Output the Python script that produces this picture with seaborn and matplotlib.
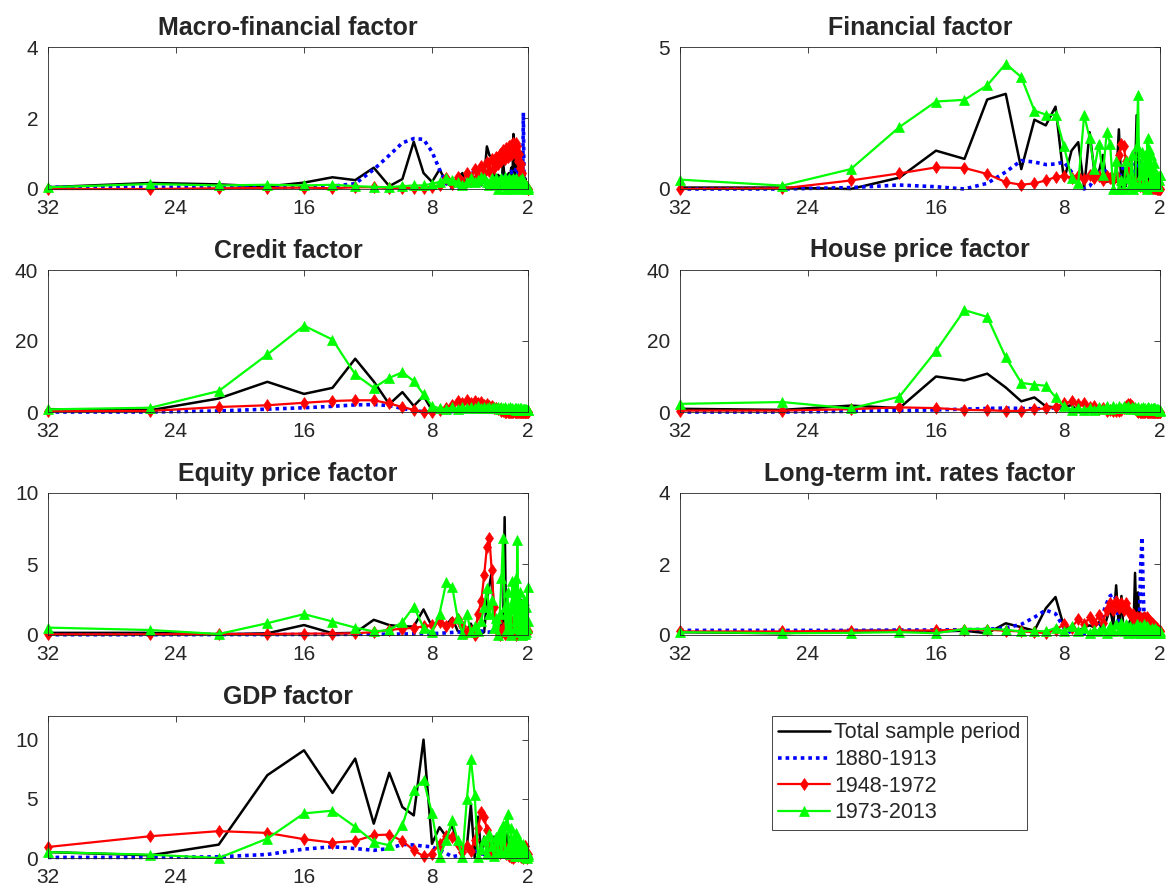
import numpy as np
import pandas as pd
import matplotlib
matplotlib.use("Agg")
import matplotlib.pyplot as plt
import seaborn as sns

sns.set_style("white")
plt.rcParams['font.family'] = ['Liberation Sans', 'DejaVu Sans']

# periods (years) of the spectral estimates, from 32 down to 2
periods = [32.0, 25.6, 21.33, 18.29, 16.0, 14.22, 12.8, 11.64, 10.67, 9.85,
           9.14, 8.53, 8.0, 7.53, 7.11, 6.74, 6.4, 6.1, 5.82, 5.57,
           5.33, 5.12, 4.92, 4.74, 4.57, 4.41, 4.27, 4.13, 4.0, 3.88,
           3.76, 3.66, 3.56, 3.46, 3.37, 3.28, 3.2, 3.12, 3.05, 2.98,
           2.91, 2.84, 2.78, 2.72, 2.67, 2.61, 2.56, 2.51, 2.46, 2.42,
           2.37, 2.33, 2.29, 2.25, 2.21, 2.17, 2.13, 2.1, 2.06, 2.03,
           2.0]

series_labels = ['Total sample period', '1880-1913', '1948-1972', '1973-2013']
panel_titles = ['Macro-financial factor', 'Financial factor', 'Credit factor',
                'House price factor', 'Equity price factor',
                'Long-term int. rates factor', 'GDP factor']

# --- Macro-financial factor
mf_total = [0.05, 0.17, 0.13, 0.07, 0.18, 0.33, 0.25, 0.6, 0.08, 0.28,
            1.33, 0.45, 0.2, 0.55, 0.2, 0.05, 0.3, 0.45, 0.05, 0.2,
            0.3, 0.5, 0.1, 0.3, 1.2, 0.95, 0.9, 0.5, 0.0, 0.4,
            0.35, 0.05, 0.8, 0.3, 0.4, 0.1, 0.45, 0.2, 0.6, 0.1,
            1.55, 0.05, 0.4, 0.7, 0.1, 0.5, 0.05, 0.55, 0.1, 0.8,
            0.0, 0.5, 0.1, 0.4, 0.05, 0.3, 0.1, 0.2, 0.05, 0.1,
            0.05]
mf_early = [0.05, 0.05, 0.05, 0.05, 0.05, 0.08, 0.15, 0.55, 0.95, 1.3,
            1.42, 1.4, 1.05, 0.55, 0.15, 0.02, 0.0, 0.05, 0.2, 0.45,
            0.5, 0.4, 0.15, 0.05, 0.05, 0.1, 0.2, 0.3, 0.25, 0.15,
            0.1, 0.2, 0.35, 0.4, 0.3, 0.2, 0.3, 0.45, 0.5, 0.4,
            0.3, 0.45, 0.55, 0.5, 0.4, 0.5, 0.6, 0.5, 0.4, 0.35,
            0.5, 0.3, 2.15, 0.2, 0.1, 0.05, 0.05, 0.03, 0.02, 0.02,
            0.02]
mf_post = [0.0, 0.0, 0.02, 0.03, 0.04, 0.02, 0.05, 0.05, 0.03, 0.03,
           0.03, 0.04, 0.05, 0.1, 0.3, 0.15, 0.35, 0.2, 0.45, 0.3,
           0.55, 0.35, 0.65, 0.45, 0.75, 0.5, 0.85, 0.6, 0.9, 0.7,
           1.0, 0.8, 1.1, 0.85, 1.15, 0.9, 1.2, 0.95, 1.25, 1.0,
           1.3, 1.05, 1.3, 0.95, 1.2, 0.8, 1.0, 0.6, 0.7, 0.4,
           0.45, 0.2, 0.2, 0.1, 0.1, 0.05, 0.05, 0.02, 0.02, 0.0,
           0.0]
mf_recent = [0.05, 0.14, 0.1, 0.12, 0.1, 0.12, 0.08, 0.06, 0.05, 0.08,
             0.1, 0.1, 0.15, 0.2, 0.3, 0.25, 0.2, 0.1, 0.2, 0.3,
             0.2, 0.25, 0.35, 0.3, 0.2, 0.1, 0.3, 0.15, 0.3, 0.0,
             0.25, 0.3, 0.1, 0.35, 0.0, 0.2, 0.3, 0.0, 0.25, 0.1,
             0.3, 0.05, 0.2, 0.3, 0.1, 0.2, 0.0, 0.25, 0.15, 0.1,
             0.3, 0.05, 0.2, 0.1, 0.15, 0.05, 0.1, 0.05, 0.0, 0.05,
             0.0]

# --- Financial factor
fin_total = [0.05, 0.05, 0.0, 0.4, 1.35, 1.06, 3.15, 3.35, 0.7, 2.44,
             2.24, 2.9, 0.3, 1.35, 1.65, 0.05, 2.0, 0.6, 0.6, 1.2,
             0.25, 0.3, 0.5, 0.25, 2.1, 0.05, 0.75, 0.1, 0.8, 0.2,
             0.6, 0.1, 0.4, 2.6, 0.2, 0.3, 1.0, 0.1, 0.6, 0.05,
             0.5, 0.2, 0.3, 0.05, 0.4, 0.1, 0.3, 0.05, 0.25, 0.1,
             0.2, 0.05, 0.15, 0.05, 0.2, 0.05, 0.1, 0.0, 0.15, 0.05,
             0.1]
fin_early = [0.0, 0.0, 0.05, 0.14, 0.08, 0.0, 0.2, 0.6, 1.0, 0.95,
             0.86, 0.88, 0.95, 0.6, 0.2, 0.0, 0.1, 0.35, 0.6, 0.7,
             0.6, 0.45, 0.3, 0.3, 0.4, 0.6, 0.8, 0.9, 1.0, 1.0,
             0.9, 0.7, 0.6, 0.7, 0.9, 1.0, 0.9, 0.7, 0.6, 0.7,
             0.8, 0.7, 0.6, 0.5, 0.55, 0.6, 0.5, 0.4, 0.3, 0.25,
             0.2, 0.2, 0.15, 0.1, 0.1, 0.05, 0.05, 0.05, 0.03, 0.02,
             0.02]
fin_post = [0.0, 0.02, 0.3, 0.55, 0.76, 0.74, 0.53, 0.24, 0.15, 0.2,
            0.3, 0.42, 0.47, 0.4, 0.45, 0.35, 0.5, 0.4, 0.45, 0.3,
            0.45, 0.4, 0.3, 0.5, 1.2, 1.6, 1.5, 1.0, 0.6, 0.4,
            0.3, 0.2, 0.25, 0.15, 0.2, 0.1, 0.15, 0.1, 0.12, 0.08,
            0.12, 0.06, 0.1, 0.05, 0.1, 0.05, 0.08, 0.04, 0.06, 0.03,
            0.05, 0.02, 0.04, 0.02, 0.03, 0.01, 0.02, 0.01, 0.01, 0.0,
            0.0]
fin_recent = [0.33, 0.12, 0.7, 2.18, 3.08, 3.14, 3.65, 4.41, 3.94, 2.76,
              2.62, 2.6, 1.5, 0.4, 0.2, 2.6, 1.8, 0.7, 1.6, 0.5,
              2.0, 1.6, 0.0, 1.0, 0.0, 0.3, 0.0, 1.0, 0.4, 0.1,
              1.2, 0.0, 0.2, 1.5, 3.3, 0.1, 0.5, 1.3, 0.1, 0.8,
              1.2, 0.0, 1.8, 0.6, 1.4, 0.2, 1.2, 0.3, 0.7, 0.1,
              0.9, 0.2, 0.6, 0.1, 0.5, 0.2, 0.4, 0.1, 0.3, 0.5,
              0.5]

# --- Credit factor
cr_total = [0.8, 0.5, 3.8, 8.5, 5.1, 6.8, 15.0, 8.6, 2.2, 5.6,
            1.7, 4.5, 0.5, 0.6, 0.5, 0.8, 0.5, 0.7, 0.9, 1.0,
            1.3, 1.6, 1.2, 1.4, 1.0, 1.1, 0.8, 0.9, 0.6, 0.7,
            0.5, 0.6, 0.4, 0.5, 0.4, 0.3, 0.45, 0.3, 0.35, 0.3,
            0.8, 0.3, 0.35, 0.3, 0.4, 0.3, 0.35, 0.25, 0.3, 0.25,
            0.3, 0.2, 0.25, 0.2, 0.3, 0.2, 0.25, 0.2, 0.2, 0.2,
            0.2]
cr_early = [0.0, 0.0, 0.3, 0.8, 1.2, 1.6, 2.0, 2.1, 1.8, 1.0,
            0.4, 0.1, 0.0, 0.05, 0.1, 0.1, 0.15, 0.1, 0.15, 0.1,
            0.1, 0.05, 0.1, 0.05, 0.1, 0.05, 0.1, 0.05, 0.1, 0.05,
            0.1, 0.05, 0.1, 0.05, 0.1, 0.05, 0.1, 0.05, 0.1, 0.05,
            0.1, 0.05, 0.1, 0.05, 0.1, 0.05, 0.1, 0.05, 0.1, 0.05,
            0.05, 0.05, 0.05, 0.05, 0.05, 0.05, 0.05, 0.05, 0.05, 0.05,
            0.05]
cr_post = [0.2, 0.3, 1.4, 1.9, 2.6, 3.1, 3.3, 3.3, 2.4, 1.4,
           0.6, 0.0, 0.0, 0.5, 1.2, 2.0, 3.0, 2.4, 3.3, 2.6,
           3.1, 2.4, 2.7, 2.0, 2.2, 1.6, 1.7, 1.2, 1.2, 0.8,
           0.8, 0.4, 0.3, 0.1, 0.0, 0.05, 0.0, 0.05, 0.0, 0.05,
           0.0, 0.05, 0.0, 0.05, 0.0, 0.05, 0.0, 0.05, 0.0, 0.05,
           0.0, 0.05, 0.0, 0.05, 0.0, 0.05, 0.0, 0.05, 0.0, 0.05,
           0.0]
cr_recent = [0.75, 1.2, 5.9, 16.2, 24.3, 20.4, 10.6, 6.8, 9.6, 11.2,
             8.7, 5.0, 1.7, 1.0, 0.8, 1.3, 0.9, 1.4, 1.0, 1.5,
             1.1, 1.6, 1.2, 1.5, 1.1, 1.4, 1.0, 1.5, 1.1, 1.3,
             0.9, 1.4, 1.0, 1.3, 0.9, 1.2, 0.8, 1.3, 0.9, 1.2,
             0.8, 1.1, 0.7, 1.2, 0.8, 1.1, 0.7, 1.0, 0.6, 1.0,
             0.7, 0.9, 0.6, 0.9, 0.5, 0.8, 0.6, 0.8, 0.5, 0.6,
             0.5]

# --- House price factor
hp_total = [0.9, 0.6, 1.8, 1.1, 10.0, 8.9, 10.8, 6.9, 3.0, 4.1,
            1.6, 1.3, 1.3, 2.0, 0.0, 0.3, 0.2, 0.5, 0.3, 0.6,
            0.9, 0.4, 1.2, 0.5, 1.0, 0.6, 1.3, 0.7, 1.1, 0.5,
            0.9, 1.4, 0.6, 1.0, 0.7, 0.6, 1.0, 0.4, 0.3, 0.2,
            0.1, 0.3, 0.1, 0.2, 0.1, 0.3, 0.1, 0.2, 0.1, 0.2,
            0.1, 0.2, 0.1, 0.2, 0.0, 0.1, 0.0, 0.1, 0.0, 0.1,
            0.1]
hp_early = [0.0, 0.0, 0.2, 0.4, 0.6, 0.8, 1.0, 1.1, 1.0, 0.9,
            1.0, 1.2, 1.0, 0.6, 0.3, 0.2, 0.3, 0.2, 0.3, 0.2,
            0.25, 0.2, 0.25, 0.2, 0.25, 0.2, 0.25, 0.2, 0.25, 0.2,
            0.25, 0.2, 0.25, 0.2, 0.25, 0.2, 0.25, 0.2, 0.25, 0.2,
            0.2, 0.15, 0.2, 0.15, 0.2, 0.15, 0.2, 0.15, 0.2, 0.15,
            0.15, 0.1, 0.15, 0.1, 0.15, 0.1, 0.1, 0.1, 0.1, 0.1,
            0.1]
hp_post = [0.4, 0.4, 0.8, 1.3, 1.1, 0.6, 0.5, 0.3, 0.3, 0.8,
           1.0, 1.5, 2.5, 3.0, 2.2, 2.6, 1.5, 1.8, 0.8, 1.0,
           0.4, 0.5, 0.2, 0.3, 0.2, 0.5, 1.2, 1.8, 2.3, 2.2,
           1.8, 1.2, 0.8, 0.4, 0.1, 0.0, 0.05, 0.0, 0.05, 0.0,
           0.05, 0.0, 0.05, 0.0, 0.05, 0.0, 0.05, 0.0, 0.05, 0.0,
           0.05, 0.0, 0.05, 0.0, 0.05, 0.0, 0.05, 0.0, 0.05, 0.0,
           0.0]
hp_recent = [2.3, 2.8, 1.0, 4.3, 17.2, 28.7, 26.8, 15.4, 8.2, 7.7,
             7.4, 4.2, 1.6, 0.7, 1.0, 0.5, 1.2, 0.6, 1.5, 0.8,
             1.6, 0.9, 1.7, 1.0, 1.8, 1.1, 1.7, 1.0, 1.6, 0.9,
             1.5, 1.0, 1.4, 0.8, 1.3, 0.7, 1.2, 0.8, 1.3, 0.9,
             1.2, 0.8, 1.3, 0.9, 1.1, 0.7, 1.2, 0.8, 1.0, 0.6,
             1.1, 0.7, 1.0, 0.6, 0.9, 0.5, 0.8, 0.5, 0.7, 0.4,
             0.6]

# --- Equity price factor
eq_total = [0.15, 0.15, 0.05, 0.12, 0.7, 0.12, 0.15, 1.07, 0.7, 0.6,
            0.6, 1.8, 0.6, 1.0, 0.7, 1.2, 0.3, 0.1, 0.3, 0.8,
            0.1, 0.1, 0.1, 0.2, 2.4, 3.5, 4.4, 1.5, 0.3, 0.8,
            1.5, 0.2, 0.2, 8.3, 0.5, 1.5, 0.2, 1.4, 0.3, 1.2,
            0.2, 1.0, 0.5, 1.3, 0.3, 1.2, 0.3, 0.8, 2.5, 0.3,
            0.3, 0.6, 0.1, 0.9, 0.2, 0.5, 0.1, 1.8, 0.3, 0.8,
            1.8]
eq_early = [0.02, 0.02, 0.03, 0.03, 0.04, 0.04, 0.05, 0.05, 0.06, 0.07,
            0.08, 0.08, 0.1, 0.12, 0.15, 0.18, 0.2, 0.22, 0.25, 0.28,
            0.3, 0.3, 0.28, 0.25, 0.2, 0.2, 0.25, 0.3, 0.4, 0.5,
            0.55, 0.6, 0.5, 0.4, 0.3, 0.25, 0.3, 0.4, 0.5, 0.45,
            0.4, 0.3, 0.25, 0.2, 0.2, 0.25, 0.3, 0.3, 0.25, 0.2,
            0.15, 0.15, 0.1, 0.1, 0.1, 0.08, 0.08, 0.06, 0.05, 0.05,
            0.05]
eq_post = [0.05, 0.05, 0.07, 0.07, 0.1, 0.1, 0.12, 0.2, 0.35, 0.45,
           0.5, 0.6, 0.7, 0.9, 0.6, 0.9, 1.1, 0.6, 0.2, 0.3,
           0.0, 1.5, 2.4, 4.2, 6.2, 6.8, 4.6, 2.0, 0.4, 1.0,
           0.0, 0.3, 0.5, 0.1, 0.6, 0.3, 0.8, 0.5, 1.0, 0.4,
           0.7, 0.2, 0.1, 0.0, 0.3, 0.1, 0.5, 0.2, 0.6, 0.3,
           0.8, 0.5, 0.3, 0.2, 0.4, 0.1, 0.2, 0.5, 0.3, 0.2,
           0.3]
eq_recent = [0.52, 0.35, 0.07, 0.83, 1.47, 0.95, 0.52, 0.25, 0.35, 0.9,
             2.0, 0.5, 0.2, 1.5, 3.7, 3.4, 1.2, 0.1, 1.5, 0.2,
             0.6, 0.3, 1.0, 2.0, 3.3, 1.5, 2.5, 0.5, 1.2, 0.0,
             1.5, 4.0, 6.8, 2.0, 0.3, 3.0, 0.5, 1.8, 0.0, 3.8,
             2.5, 0.5, 4.0, 1.0, 6.7, 2.0, 0.2, 3.0, 0.5, 2.2,
             0.0, 1.5, 0.3, 2.5, 0.1, 1.0, 0.2, 2.0, 0.5, 3.4,
             1.0]

# --- Long-term interest rates factor
lt_total = [0.08, 0.05, 0.12, 0.12, 0.1, 0.12, 0.05, 0.33, 0.22, 0.12,
            0.75, 1.07, 0.22, 0.17, 0.1, 0.22, 0.27, 0.22, 0.36, 0.1,
            0.45, 0.75, 0.27, 1.4, 0.17, 1.1, 0.0, 0.1, 0.2, 0.4,
            0.3, 0.1, 1.75, 0.1, 1.2, 0.05, 0.5, 0.05, 0.6, 0.1,
            0.6, 0.05, 0.3, 0.05, 0.2, 0.1, 0.3, 0.05, 0.15, 0.1,
            0.2, 0.05, 0.15, 0.1, 0.1, 0.15, 0.05, 0.1, 0.1, 0.05,
            0.1]
lt_early = [0.13, 0.13, 0.13, 0.14, 0.14, 0.15, 0.16, 0.2, 0.3, 0.5,
            0.7, 0.6, 0.2, 0.05, 0.03, 0.05, 0.05, 0.05, 0.1, 0.6,
            0.9, 1.1, 1.15, 1.0, 0.3, 0.05, 0.1, 0.2, 0.3, 0.2,
            0.15, 0.2, 0.3, 0.4, 0.5, 0.6, 2.0, 2.75, 1.2, 0.4,
            0.3, 0.2, 0.3, 0.2, 0.25, 0.2, 0.3, 0.2, 0.2, 0.15,
            0.2, 0.15, 0.15, 0.1, 0.15, 0.1, 0.1, 0.1, 0.1, 0.1,
            0.1]
lt_post = [0.1, 0.1, 0.12, 0.12, 0.13, 0.15, 0.15, 0.12, 0.1, 0.08,
           0.05, 0.15, 0.3, 0.2, 0.45, 0.3, 0.5, 0.35, 0.55, 0.35,
           0.7, 0.9, 0.7, 0.95, 0.75, 0.9, 0.7, 0.9, 0.7, 0.6,
           0.5, 0.6, 0.4, 0.5, 0.3, 0.5, 0.3, 0.45, 0.3, 0.5,
           0.35, 0.5, 0.3, 0.45, 0.3, 0.4, 0.25, 0.35, 0.2, 0.3,
           0.2, 0.25, 0.15, 0.2, 0.15, 0.2, 0.15, 0.15, 0.1, 0.1,
           0.1]
lt_recent = [0.08, 0.05, 0.06, 0.08, 0.05, 0.17, 0.17, 0.15, 0.1, 0.12,
             0.1, 0.2, 0.1, 0.25, 0.1, 0.2, 0.05, 0.15, 0.1, 0.2,
             0.05, 0.25, 0.1, 0.3, 0.15, 0.35, 0.1, 0.3, 0.05, 0.25,
             0.1, 0.2, 0.05, 0.3, 0.1, 0.25, 0.05, 0.2, 0.1, 0.3,
             0.05, 0.25, 0.1, 0.2, 0.05, 0.15, 0.1, 0.2, 0.05, 0.15,
             0.1, 0.2, 0.05, 0.15, 0.1, 0.1, 0.05, 0.1, 0.05, 0.1,
             0.05]

# --- GDP factor
gdp_total = [0.5, 0.23, 1.13, 7.0, 9.1, 5.5, 8.4, 2.9, 7.2, 4.3,
             3.6, 10.0, 1.2, 2.6, 1.8, 2.8, 1.2, 0.5, 1.0, 4.5,
             0.0, 3.5, 0.3, 1.8, 0.5, 1.5, 0.3, 1.8, 0.4, 1.6,
             0.3, 2.0, 0.2, 1.5, 0.5, 2.1, 0.3, 1.8, 0.2, 1.0,
             0.6, 1.2, 0.3, 0.9, 0.4, 1.0, 0.2, 0.8, 0.4, 0.7,
             0.3, 0.6, 0.3, 0.8, 0.2, 0.5, 0.3, 1.1, 0.3, 0.5,
             0.3]
gdp_early = [0.05, 0.05, 0.1, 0.3, 0.75, 0.95, 0.8, 0.65, 0.8, 1.15,
             1.1, 1.0, 0.95, 0.65, 0.4, 0.1, 0.2, 0.4, 0.6, 0.7,
             0.6, 0.5, 0.4, 0.3, 0.35, 0.4, 0.45, 0.5, 0.5, 0.45,
             0.4, 0.35, 0.3, 0.35, 0.4, 0.45, 0.4, 0.35, 0.3, 0.3,
             0.25, 0.3, 0.3, 0.25, 0.2, 0.25, 0.2, 0.2, 0.2, 0.15,
             0.15, 0.15, 0.1, 0.1, 0.1, 0.1, 0.1, 0.1, 0.1, 0.1,
             0.1]
gdp_post = [0.93, 1.84, 2.27, 2.12, 1.59, 1.3, 1.44, 1.93, 1.98, 1.44,
            0.65, 0.15, 0.37, 1.2, 1.9, 1.8, 1.2, 0.5, 1.0, 0.6,
            1.5, 2.5, 3.9, 3.5, 2.4, 1.2, 0.5, 0.8, 0.3, 1.0,
            0.4, 1.2, 0.5, 0.9, 0.3, 0.7, 0.2, 0.5, 0.1, 0.3,
            0.0, 0.2, 0.5, 0.3, 0.8, 0.2, 1.0, 0.3, 0.6, 0.1,
            0.4, 0.0, 0.2, 0.5, 0.1, 1.0, 0.2, 0.5, 0.0, 0.3,
            0.1]
gdp_recent = [0.5, 0.28, 0.0, 1.64, 3.77, 4.0, 2.63, 1.36, 1.08, 2.78,
              5.75, 6.6, 3.77, 0.1, 1.5, 3.2, 1.5, 0.1, 5.0, 8.4,
              5.3, 0.1, 0.8, 1.5, 0.3, 2.0, 1.0, 0.2, 1.8, 0.5,
              2.3, 0.4, 2.8, 0.5, 3.0, 3.7, 1.0, 0.3, 2.5, 0.5,
              1.5, 0.2, 2.1, 0.3, 1.0, 0.2, 1.5, 0.5, 0.8, 0.2,
              0.6, 1.2, 0.3, 0.8, 0.2, 0.5, 0.1, 0.4, 0.0, 0.3,
              0.2]

panel_data = [
    (mf_total, mf_early, mf_post, mf_recent),
    (fin_total, fin_early, fin_post, fin_recent),
    (cr_total, cr_early, cr_post, cr_recent),
    (hp_total, hp_early, hp_post, hp_recent),
    (eq_total, eq_early, eq_post, eq_recent),
    (lt_total, lt_early, lt_post, lt_recent),
    (gdp_total, gdp_early, gdp_post, gdp_recent),
]
y_limits = [(0, 4), (0, 5), (0, 40), (0, 40), (0, 10), (0, 4), (0, 12)]
y_ticks = [[0, 2, 4], [0, 5], [0, 20, 40], [0, 20, 40], [0, 5, 10],
           [0, 2, 4], [0, 5, 10]]

styles = [
    dict(color='k', lw=1.8, linestyle='-'),
    dict(color='b', lw=2.6, linestyle=(0, (1, 1.1))),
    dict(color='r', lw=1.6, linestyle='-', marker='d', markersize=6,
         markeredgecolor='r', markerfacecolor='r', markeredgewidth=0.5),
    dict(color=(0, 1, 0), lw=1.6, linestyle='-', marker='^', markersize=7,
         markeredgecolor=(0, 1, 0), markerfacecolor=(0, 1, 0),
         markeredgewidth=0.5),
]

fig = plt.figure(figsize=(11.66, 8.91), dpi=100)

W, H = 1166, 891
col_left = [48, 680]
row_top = [47, 270, 493, 716]
ax_w, ax_h = 480, 142

axes = []
for i, title in enumerate(panel_titles):
    r, c = divmod(i, 2)
    rect = [col_left[c] / W, 1 - (row_top[r] + ax_h) / H, ax_w / W, ax_h / H]
    ax = fig.add_axes(rect)
    for vals, lab, st in zip(panel_data[i], series_labels, styles):
        sns.lineplot(x=periods, y=vals, ax=ax, label=lab, sort=False,
                     errorbar=None, clip_on=False, **st)
    if ax.get_legend() is not None:
        ax.get_legend().remove()
    ax.set_xlim(32, 2)
    ax.set_xticks([32, 24, 16, 8, 2])
    ax.set_xticklabels(['32', '24', '16', '8', '2'])
    ax.set_ylim(*y_limits[i])
    ax.set_yticks(y_ticks[i])
    ax.set_title(title, fontsize=18, fontweight='bold', pad=9)
    ax.tick_params(direction='in', length=4, width=0.6, colors='0.15',
                   labelsize=15, top=True, right=True, pad=7)
    for sp in ax.spines.values():
        sp.set_visible(True)
        sp.set_color('0.15')
        sp.set_linewidth(0.6)
    ax.set_xlabel('')
    ax.set_ylabel('')
    axes.append(ax)

handles, labels = axes[0].get_legend_handles_labels()
leg = fig.legend(handles, labels, loc='upper left',
                 bbox_to_anchor=(772 / W, 1 - 716 / H), fontsize=15.5,
                 frameon=True, fancybox=False, framealpha=1,
                 edgecolor='0.15', borderaxespad=0, handlelength=2.4,
                 handletextpad=0.2, labelspacing=0.26, borderpad=0.3)
leg.get_frame().set_linewidth(0.6)

fig.savefig('out.png', dpi=100)
